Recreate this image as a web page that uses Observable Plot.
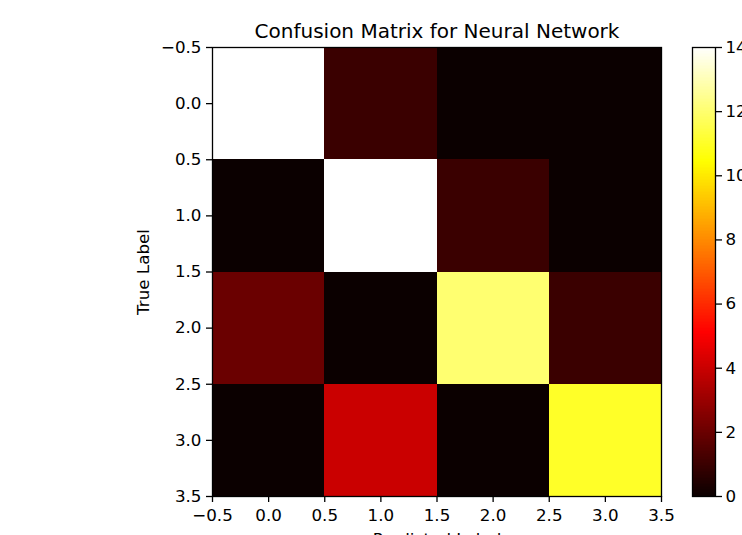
<!DOCTYPE html>
<html>
<head>
<meta charset="utf-8">
<script src="https://cdn.jsdelivr.net/npm/d3@7"></script>
<script src="https://cdn.jsdelivr.net/npm/@observablehq/plot@0.6"></script>
<style>
  body { margin: 0; background: white; }
  #wrap { position: relative; width: 742px; height: 535px; overflow: hidden; background: white; }
  #wrap svg { position: absolute; left: 0; top: 0; }
</style>
</head>
<body>
<div id="wrap"></div>
<script>
// ---- data ----
const trueLabels = [0, 1, 2, 3];
const predictedLabels = [0, 1, 2, 3];
const matrix = [
  [14, 1, 0, 0],
  [0, 14, 1, 0],
  [2, 0, 12, 1],
  [0, 4, 0, 11]
];
const axisTicks = [-0.5, 0, 0.5, 1, 1.5, 2, 2.5, 3, 3.5];
const colorbarTicks = [0, 2, 4, 6, 8, 10, 12, 14];
const colorDomain = [0, 14];
const titleText = "Confusion Matrix for Neural Network";
const xLabelText = "Predicted Label";
const yLabelText = "True Label";

// ---- matplotlib "hot" colormap ----
function hot(t) {
  t = Math.max(0, Math.min(1, t));
  const a = 0.365079, b = 0.746032;
  const r = t < a ? 0.0416 + (1 - 0.0416) * t / a : 1;
  const g = t < a ? 0 : t < b ? (t - a) / (b - a) : 1;
  const bl = t < b ? 0 : (t - b) / (1 - b);
  return d3.rgb(r * 255, g * 255, bl * 255).formatHex();
}

const cells = [];
trueLabels.forEach((r, i) => predictedLabels.forEach((c, j) => {
  cells.push({row: r, col: c, value: matrix[i][j]});
}));

const font = "DejaVu Sans, sans-serif";
const fmt = d3.format(".1f");
const colorScale = {type: "linear", domain: colorDomain, interpolate: hot};
const tickFont = 16.7;

const W = 742, H = 535;
const mL = 212, mR = 81, mT = 47, mB = 39;

const main = Plot.plot({
  width: W, height: H,
  marginLeft: mL, marginRight: mR, marginTop: mT, marginBottom: mB,
  style: {fontFamily: font, fontSize: tickFont + "px", color: "black", background: "white", overflow: "visible"},
  x: {domain: [-0.5, 3.5]},
  y: {domain: [3.5, -0.5]},
  color: colorScale,
  marks: [
    Plot.rect(cells, {
      x1: d => d.col - 0.5, x2: d => d.col + 0.5,
      y1: d => d.row - 0.5, y2: d => d.row + 0.5,
      fill: "value", shapeRendering: "crispEdges"
    }),
    Plot.frame({stroke: "black", strokeWidth: 1.3}),
    Plot.axisX({ticks: axisTicks, tickFormat: fmt, tickSize: 6, tickPadding: 7, label: null, fontSize: tickFont, stroke: "black", strokeWidth: 1.3, fill: "black"}),
    Plot.axisY({ticks: axisTicks, tickFormat: fmt, tickSize: 6, tickPadding: 5, label: null, fontSize: tickFont, stroke: "black", strokeWidth: 1.3, fill: "black"}),
    Plot.text([titleText], {frameAnchor: "top", lineAnchor: "middle", textAnchor: "middle", dy: -16, fontSize: 20, fill: "black"}),
    Plot.text([yLabelText], {frameAnchor: "left", lineAnchor: "middle", textAnchor: "middle", dx: -69, rotate: -90, fontSize: 16.7, fill: "black"}),
    Plot.text([xLabelText], {frameAnchor: "bottom", lineAnchor: "middle", textAnchor: "middle", dy: 43, fontSize: 16.7, fill: "black"})
  ]
});

// colorbar
const nSteps = 300;
const ramp = d3.range(nSteps).map(i => ({
  v0: colorDomain[0] + (colorDomain[1] - colorDomain[0]) * i / nSteps,
  v1: colorDomain[0] + (colorDomain[1] - colorDomain[0]) * (i + 1) / nSteps
}));

const bar = Plot.plot({
  width: W, height: H,
  marginLeft: 692, marginRight: 27, marginTop: mT, marginBottom: mB,
  style: {fontFamily: font, fontSize: tickFont + "px", color: "black", background: "none", overflow: "visible"},
  x: {domain: [0, 1], axis: null},
  y: {domain: colorDomain, axis: null},
  color: colorScale,
  marks: [
    Plot.rect(ramp, {x1: 0, x2: 1, y1: "v0", y2: "v1", fill: d => (d.v0 + d.v1) / 2, insetTop: -0.5, shapeRendering: "crispEdges"}),
    Plot.frame({stroke: "black", strokeWidth: 1.3}),
    Plot.axisY({anchor: "right", ticks: colorbarTicks, tickSize: 6, tickPadding: 4, label: null, fontSize: tickFont, stroke: "black", strokeWidth: 1.3, fill: "black"})
  ]
});

const wrap = document.getElementById("wrap");
wrap.appendChild(main);
wrap.appendChild(bar);
</script>
</body>
</html>
